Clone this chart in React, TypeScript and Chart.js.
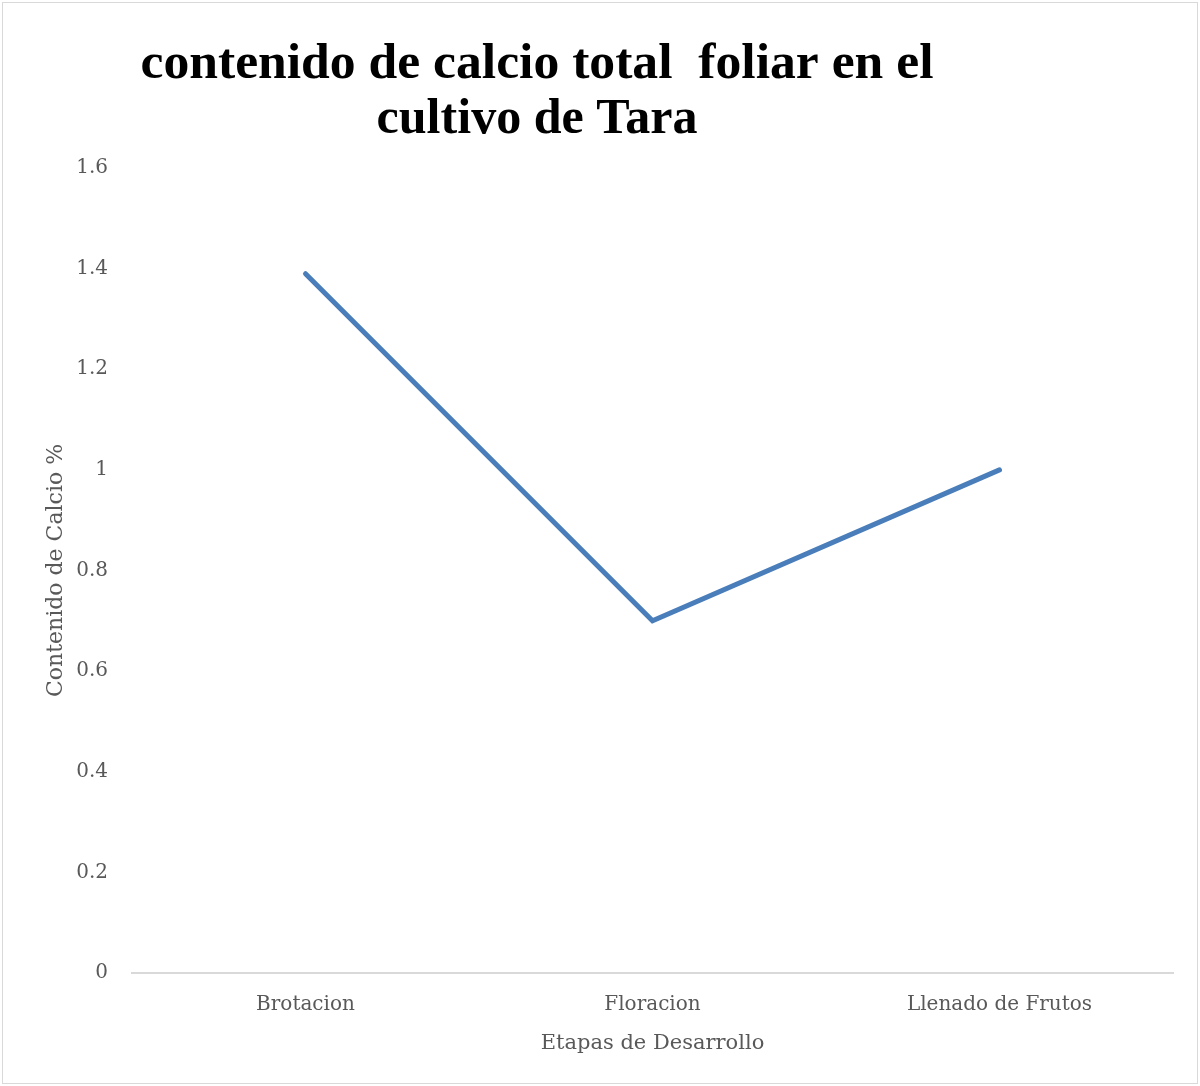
import React, { useEffect, useRef } from "react";
import { Chart, registerables } from "chart.js";

Chart.register(...registerables);

const titleLines = ["contenido de calcio total  foliar en el", "cultivo de Tara"];
const categories = ["Brotacion", "Floracion", "Llenado de Frutos"];
const calcioValues = [1.39, 0.7, 1.0];
const yTicks = [0, 0.2, 0.4, 0.6, 0.8, 1, 1.2, 1.4, 1.6];
const xAxisTitle = "Etapas de Desarrollo";
const yAxisTitle = "Contenido de Calcio %";

const W = 1200;
const H = 1086;

const framePlugin = {
  id: "frameAndTitle",
  afterDraw(chart: any) {
    const ctx = chart.ctx;
    ctx.save();
    ctx.strokeStyle = "#d9d9d9";
    ctx.lineWidth = 1;
    ctx.strokeRect(2.5, 2.5, W - 5, H - 5);
    ctx.fillStyle = "#000000";
    ctx.textAlign = "center";
    ctx.textBaseline = "alphabetic";
    ctx.font = "bold 48px 'Liberation Serif', serif";
    const cx = 537;
    const baselines = [78, 133];
    const w0 = ctx.measureText(titleLines[0]).width;
    const sx = 793 / w0;
    titleLines.forEach((line, i) => {
      ctx.save();
      ctx.translate(cx, baselines[i]);
      ctx.scale(i === 0 ? sx : sx * 0.97, 1.05);
      ctx.fillText(line, 0, 0);
      ctx.restore();
    });
    ctx.restore();
  },
};

export default function App() {
  const ref = useRef<HTMLCanvasElement>(null);
  useEffect(() => {
    if (!ref.current) return;
    const chart = new Chart(ref.current, {
      type: "line",
      data: {
        labels: categories,
        datasets: [
          {
            label: "Calcio",
            data: calcioValues,
            borderColor: "#4a7ebb",
            borderWidth: 5,
            pointRadius: 0,
            tension: 0,
            borderCapStyle: "round",
            borderJoinStyle: "miter",
          },
        ],
      },
      options: {
        animation: false,
        responsive: false,
        maintainAspectRatio: false,
        layout: { padding: { top: 168, right: 27, left: 0, bottom: 0 } },
        plugins: {
          legend: { display: false },
          title: { display: false },
          tooltip: { enabled: false },
        },
        scales: {
          x: {
            offset: true,
            grid: { display: false, drawTicks: false },
            border: { display: true, color: "#d9d9d9", width: 2 },
            ticks: {
              color: "#595959",
              font: { family: "'DejaVu Serif', serif", size: 20 },
              padding: 20,
              maxRotation: 0,
            },
            title: {
              display: true,
              text: xAxisTitle,
              color: "#595959",
              font: { family: "'DejaVu Serif', serif", size: 21 },
              padding: { top: 0, bottom: 30 },
            },
            afterFit: (s: any) => {
              s.height = H - 973;
            },
          },
          y: {
            min: 0,
            max: 1.6,
            grid: { display: false, drawTicks: false },
            border: { display: false },
            afterBuildTicks: (s: any) => {
              s.ticks = yTicks.map((v) => ({ value: v }));
            },
            ticks: {
              color: "#595959",
              font: { family: "'DejaVu Serif', serif", size: 20 },
              padding: 24,
              callback: (v: any) => String(v),
            },
            title: {
              display: true,
              text: yAxisTitle,
              color: "#595959",
              font: { family: "'DejaVu Serif', serif", size: 22 },
              padding: { top: 43, bottom: 0 },
            },
            afterFit: (s: any) => {
              s.width = 132;
            },
          },
        },
      },
      plugins: [framePlugin],
    });
    return () => chart.destroy();
  }, []);
  return (
    <div style={{ position: "absolute", left: 0, top: 0, width: W, height: H, background: "#fff" }}>
      <canvas ref={ref} width={W} height={H} style={{ width: W, height: H, display: "block" }} />
    </div>
  );
}
